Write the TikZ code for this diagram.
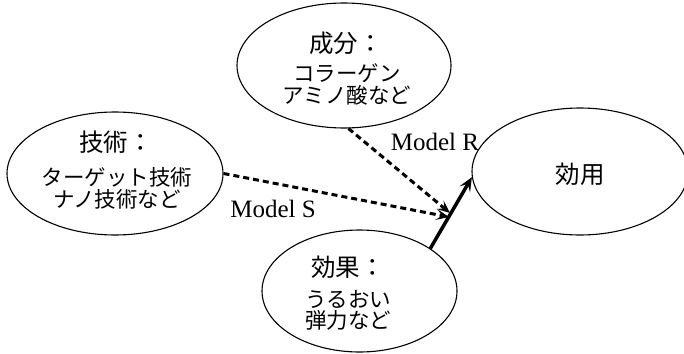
\documentclass[tikz,border=0pt]{standalone}
\usepackage{fontspec}
\setmainfont{Liberation Serif}
\newfontfamily\jp{Noto Sans CJK JP}
\usetikzlibrary{arrows.meta,shapes.geometric}
\begin{document}
\begin{tikzpicture}[x=1pt,y=-1pt,
  bubble/.style={draw, ellipse, line width=1.1pt, inner sep=0pt},
  txt/.style={align=center, inner sep=0pt, font=\jp\fontsize{21.5}{21.5}\selectfont},
  ttl/.style={inner sep=0pt, font=\jp\fontsize{24.5}{28}\selectfont},
  mlab/.style={font=\fontsize{25}{28}\selectfont, inner sep=0pt},
  dsh/.style={line width=3pt, dash pattern=on 6pt off 4pt, -{Stealth[length=13pt,width=11pt,inset=6pt]}},
  sld/.style={line width=3.5pt, -{Stealth[length=14pt,width=12pt,inset=6pt]}}]
\useasboundingbox (0,0) rectangle (684,353);
% ellipses
\node[bubble, minimum width=214pt, minimum height=125pt] (tp) at (344,65.5) {};
\node[bubble, minimum width=216pt, minimum height=123pt] (lf) at (115,173.5) {};
\node[bubble, minimum width=195pt, minimum height=122pt] (bt) at (359.5,291) {};
\node[bubble, minimum width=216pt, minimum height=127pt] (ef) at (580,171.5) {};
% texts
\node[ttl] (tpt) at (346,43) {成分：};
\node[txt] (tps) at (347,84.5) {コラーゲン\\アミノ酸など};
\node[ttl] (lft) at (116,142) {技術：};
\node[txt] (lfs) at (117,188.5) {ターゲット技術\\ナノ技術など};
\node[ttl] (btt) at (348,267) {効果：};
\node[txt] (bts) at (348,310.5) {うるおい\\弾力など};
\node[ttl] (eft) at (580,174) {効用};
% model labels
\node[mlab] (mr) at (435,142) {Model R};
\node[mlab] (ms) at (273,209) {Model S};
% connectors
\coordinate (rend) at (450,213);
\coordinate (send) at (449,217);
\draw[dsh] (tp.274) -- (rend);
\draw[dsh] (lf.east) -- (send);
\draw[sld] (bt.31) -- (ef.183);
\end{tikzpicture}
\end{document}
